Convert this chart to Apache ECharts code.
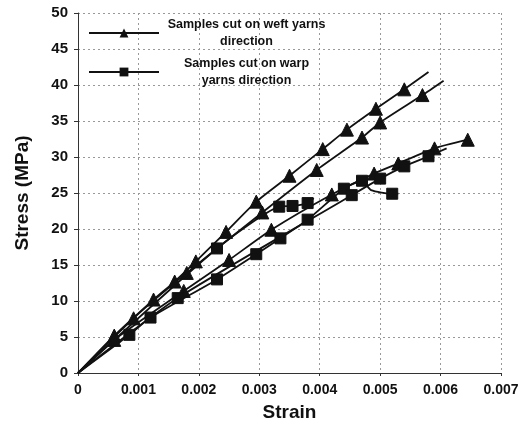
<!DOCTYPE html>
<html>
<head>
<meta charset="utf-8">
<script src="https://cdn.jsdelivr.net/npm/echarts@6/dist/echarts.min.js"></script>
<style>
  html, body { margin: 0; padding: 0; background: #fff; }
  #chart { width: 525px; height: 427px; }
</style>
</head>
<body>
<div id="chart"></div>
<script>
// strain / stress readings, one array per specimen
var weft1 = [[0,0],[0.0006,5.2],[0.00125,10.2],[0.0016,12.7],[0.00195,15.5],[0.00245,19.6],[0.00295,23.8],[0.0035,27.4],[0.00405,31.1],[0.00445,33.8],[0.00493,36.7],[0.0054,39.4],[0.0058,41.8]];
var weft2 = [[0,0],[0.00092,7.6],[0.0018,13.9],[0.00305,22.3],[0.00395,28.2],[0.0047,32.7],[0.005,34.8],[0.0057,38.6],[0.00605,40.6]];
var weft3 = [[0,0],[0.0006,4.6],[0.00175,11.4],[0.0025,15.7],[0.0032,19.9],[0.0042,24.8],[0.0049,27.7],[0.0053,29.1],[0.0059,31.2],[0.00645,32.4]];
var warp1 = [[0,0],[0.0023,17.3],[0.00333,23.1],[0.00355,23.2],[0.0038,23.6],[0.0039,24.3]];
var warp2 = [[0,0],[0.00085,5.3],[0.0012,7.7],[0.0023,13.0],[0.00295,16.5],[0.00335,18.7],[0.0038,21.3],[0.0044,25.6],[0.0047,26.7],[0.00485,25.4],[0.0052,24.9],[0.0053,24.9]];
var warp3 = [[0,0],[0.00165,10.4],[0.00453,24.7],[0.005,27.0],[0.0054,28.7],[0.0058,30.1],[0.0061,31.2]];

var weftName = 'Samples cut on weft yarns\ndirection';
var warpName = 'Samples cut on warp\nyarns direction';

// which points of each curve are drawn without a marker
var curves = [
  { name: weftName, data: weft1, symbol: 'triangle', size: 13, bare: [0, 12] },
  { name: weftName, data: weft2, symbol: 'triangle', size: 13, bare: [0, 8] },
  { name: weftName, data: weft3, symbol: 'triangle', size: 13, bare: [0] },
  { name: warpName, data: warp1, symbol: 'rect', size: 11, bare: [0, 5] },
  { name: warpName, data: warp2, symbol: 'rect', size: 11, bare: [0, 9, 11] },
  { name: warpName, data: warp3, symbol: 'rect', size: 11, bare: [0, 6] }
];

var font = 'Liberation Sans, Arial, sans-serif';

var chart = echarts.init(document.getElementById('chart'));

var series = curves.map(function (c) {
  return {
    name: c.name,
    type: 'line',
    data: c.data.map(function (p, i) {
      return c.bare.indexOf(i) >= 0 ? { value: p, symbol: 'none' } : p;
    }),
    smooth: 0.2,
    showAllSymbol: true,
    symbol: c.symbol,
    symbolSize: c.size,
    lineStyle: { color: '#111', width: 1.8 },
    itemStyle: { color: '#111', borderColor: '#111' },
    emphasis: { disabled: true },
    animation: false
  };
});

var option = {
  backgroundColor: '#fff',
  textStyle: { fontFamily: font },
  grid: { left: 78, right: 24, top: 13, bottom: 54 },
  legend: {
    orient: 'vertical',
    left: 83,
    top: 13,
    itemWidth: 70,
    itemHeight: 11,
    itemGap: 9,
    data: [weftName, warpName],
    formatter: function (name) {
      return name.split('\n').map(function (s) { return '{t|' + s + '}'; }).join('\n');
    },
    textStyle: {
      fontWeight: 'bold',
      rich: {
        t: { fontFamily: font, fontWeight: 'bold', fontSize: 12.5, color: '#111', width: 165, align: 'center', lineHeight: 17 }
      }
    }
  },
  xAxis: {
    type: 'value',
    min: 0,
    max: 0.007,
    interval: 0.001,
    name: 'Strain',
    nameLocation: 'middle',
    nameGap: 30,
    nameTextStyle: { fontFamily: font, fontWeight: 'bold', fontSize: 19, color: '#111' },
    axisLine: { show: true, lineStyle: { color: '#333', width: 1 } },
    axisTick: { show: true, length: 3, lineStyle: { color: '#333' } },
    axisLabel: {
      fontFamily: font, fontWeight: 'bold', fontSize: 14, color: '#111', margin: 10,
      formatter: function (v) { return v === 0 ? '0' : v.toFixed(3); }
    },
    splitLine: { show: true, lineStyle: { color: '#999', type: [2, 3], width: 1 } }
  },
  yAxis: {
    type: 'value',
    min: 0,
    max: 50,
    interval: 5,
    name: 'Stress (MPa)',
    nameLocation: 'middle',
    nameGap: 46,
    nameTextStyle: { fontFamily: font, fontWeight: 'bold', fontSize: 19, color: '#111' },
    axisLine: { show: true, lineStyle: { color: '#333', width: 1 } },
    axisTick: { show: true, length: 4, lineStyle: { color: '#333' } },
    axisLabel: { fontFamily: font, fontWeight: 'bold', fontSize: 15, color: '#111', margin: 10 },
    splitLine: { show: true, lineStyle: { color: '#999', type: [2, 3], width: 1 } }
  },
  series: series
};

chart.setOption(option);
</script>
</body>
</html>
